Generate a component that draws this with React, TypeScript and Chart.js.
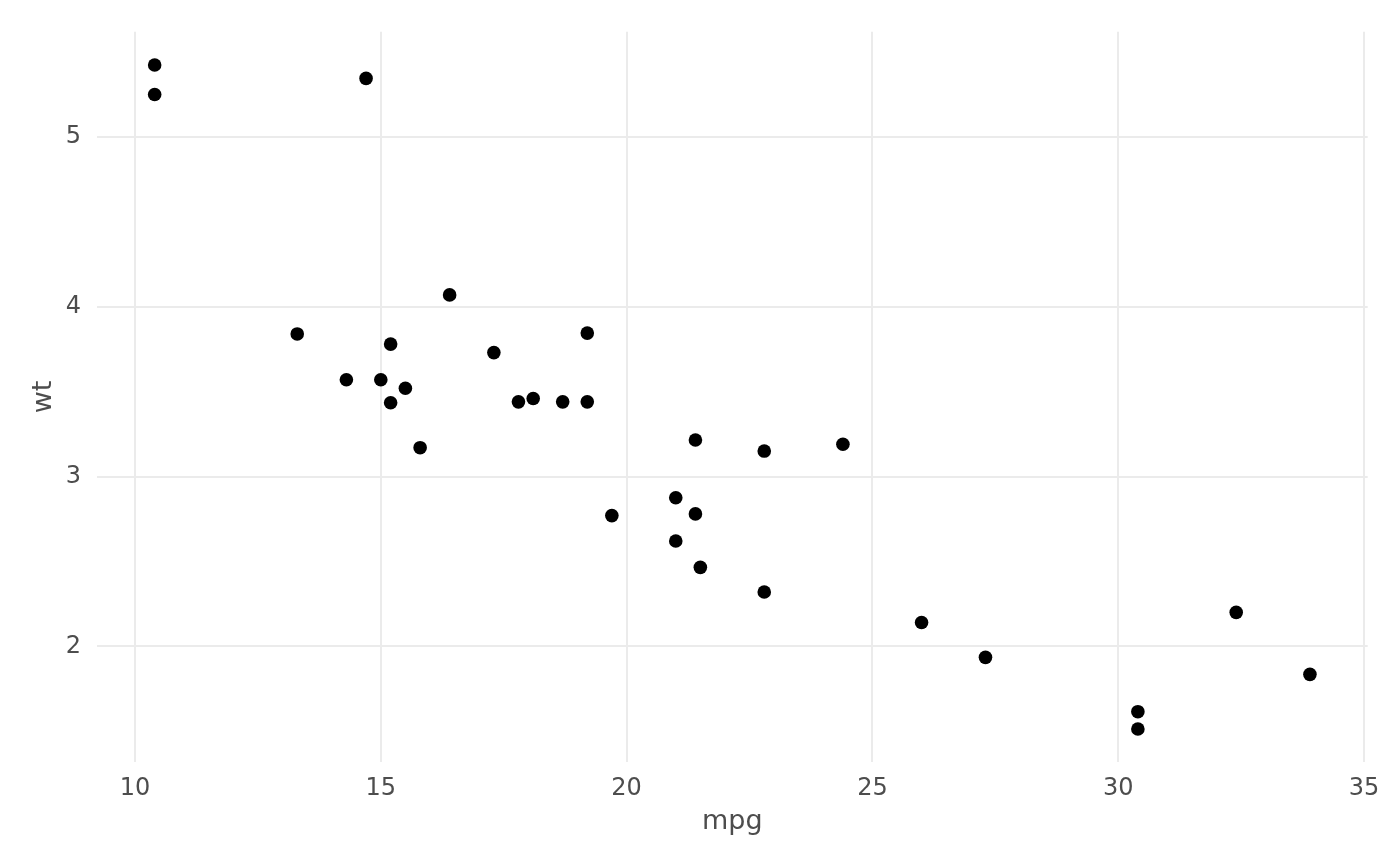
import React, { useEffect, useRef } from "react";
import { Chart, registerables } from "chart.js";

Chart.register(...registerables);

const mpg = [21.0, 21.0, 22.8, 21.4, 18.7, 18.1, 14.3, 24.4, 22.8, 19.2, 17.8, 16.4, 17.3, 15.2, 10.4, 10.4, 14.7, 32.4, 30.4, 33.9, 21.5, 15.5, 15.2, 13.3, 19.2, 27.3, 26.0, 30.4, 15.8, 19.7, 15.0, 21.4];
const wt = [2.62, 2.875, 2.32, 3.215, 3.44, 3.46, 3.57, 3.19, 3.15, 3.44, 3.44, 4.07, 3.73, 3.78, 5.25, 5.424, 5.345, 2.2, 1.615, 1.835, 2.465, 3.52, 3.435, 3.84, 3.845, 1.935, 2.14, 1.513, 3.17, 2.77, 3.57, 2.78];
const xTicks = [10, 15, 20, 25, 30, 35];
const yTicks = [2, 3, 4, 5];
const xTitle = "mpg";
const yTitle = "wt";

export default function App() {
  const ref = useRef<HTMLCanvasElement | null>(null);
  useEffect(() => {
    if (!ref.current) return;
    const xmin = Math.min(...mpg), xmax = Math.max(...mpg);
    const ymin = Math.min(...wt), ymax = Math.max(...wt);
    const xr = (xmax - xmin) * 0.05, yr = (ymax - ymin) * 0.05;
    const font = "'DejaVu Sans', sans-serif";
    const chart = new Chart(ref.current, {
      type: "scatter",
      data: {
        datasets: [
          {
            data: mpg.map((m, i) => ({ x: m, y: wt[i] })),
            backgroundColor: "#000000",
            borderColor: "#000000",
            borderWidth: 0,
            pointRadius: 6.8,
            pointHoverRadius: 6.8,
          },
        ],
      },
      options: {
        responsive: false,
        animation: false,
        devicePixelRatio: 1,
        layout: { padding: { top: 31.8, right: 32.3, bottom: 0, left: 0 } },
        plugins: { legend: { display: false }, tooltip: { enabled: false } },
        scales: {
          x: {
            type: "linear",
            min: xmin - xr,
            max: xmax + xr,
            afterBuildTicks: (s: any) => {
              s.ticks = xTicks.map((v) => ({ value: v }));
            },
            afterFit: (s: any) => {
              s.height = 103.8;
            },
            grid: { color: "#ebebeb", lineWidth: 2, drawTicks: false },
            border: { display: false },
            ticks: {
              padding: 12,
              color: "#4d4d4d",
              font: { family: font, size: 24 },
              maxRotation: 0,
            },
            title: {
              display: true,
              text: xTitle,
              color: "#4d4d4d",
              font: { family: font, size: 27 },
              padding: { top: 0, bottom: 27.8 },
            },
          },
          y: {
            type: "linear",
            min: ymin - yr,
            max: ymax + yr,
            afterBuildTicks: (s: any) => {
              s.ticks = yTicks.map((v) => ({ value: v }));
            },
            afterFit: (s: any) => {
              s.width = 96.9;
            },
            grid: { color: "#ebebeb", lineWidth: 2, drawTicks: false },
            border: { display: false },
            ticks: {
              padding: 16,
              color: "#4d4d4d",
              font: { family: font, size: 24 },
            },
            title: {
              display: true,
              text: yTitle,
              color: "#4d4d4d",
              font: { family: font, size: 27 },
              padding: { top: 27.8, bottom: 0 },
            },
          },
        },
      },
    });
    return () => chart.destroy();
  }, []);
  return (
    <canvas
      ref={ref}
      width={1400}
      height={866}
      style={{ position: "fixed", top: 0, left: 0, width: 1400, height: 866, background: "#ffffff" }}
    />
  );
}
